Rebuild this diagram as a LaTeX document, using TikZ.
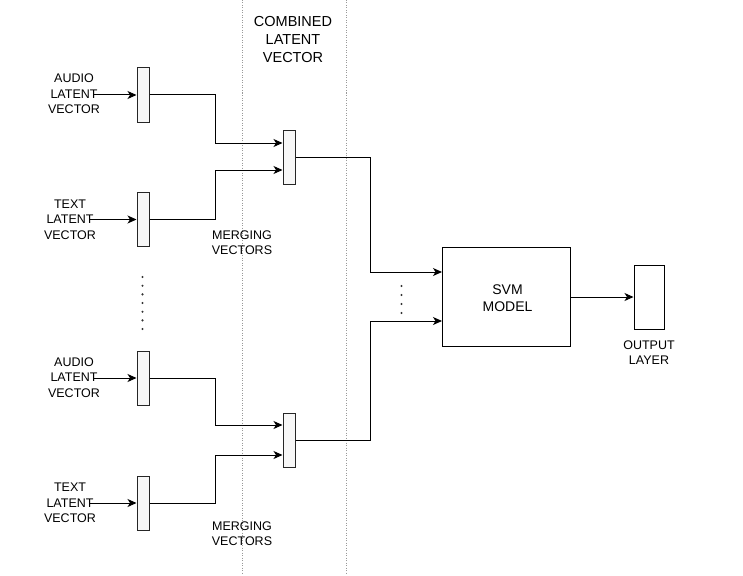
\documentclass[tikz,border=0pt]{standalone}
\usepackage{fontspec}
\setmainfont{Liberation Sans}
\usetikzlibrary{arrows.meta,calc}
\begin{document}
\begin{tikzpicture}[x=1pt,y=-1pt,
  vbox/.style={draw=black!85,fill=gray!6,line width=1pt,minimum width=12pt,minimum height=54pt,inner sep=0pt},
  bigbox/.style={draw=black,line width=1pt,inner sep=0pt,fill=white},
  lbl/.style={align=center,font=\fontsize{12.5}{15.5}\selectfont,inner sep=0pt},
  midlbl/.style={align=center,font=\fontsize{14}{17}\selectfont,inner sep=0pt},
  biglbl/.style={align=center,font=\fontsize{14.5}{18}\selectfont,inner sep=0pt},
  arr/.style={draw=black,line width=1pt,-{Stealth[length=9pt,width=8pt,inset=2.5pt]}},
  sep/.style={draw=gray!80,line width=0.9pt,dash pattern=on 1pt off 1.5pt},
  dot/.style={fill=black!80}]
\useasboundingbox (0,0) rectangle (743,575);
% separator lines
\draw[sep] (242,0) -- (242,575);
\draw[sep] (346,0) -- (346,575);
\node[biglbl] (comb) at (293,40) {COMBINED\\LATENT\\VECTOR};
% input boxes
\node[vbox] (a1) at (143,95) {};
\node[vbox] (t1) at (143,219.5) {};
\node[vbox] (a2) at (143,378) {};
\node[vbox] (t2) at (143,503) {};
% labels
\node[lbl] (la1) at (74,94) {AUDIO\\LATENT\\VECTOR};
\node[lbl] (lt1) at (70,219.5) {TEXT\\LATENT\\VECTOR};
\node[lbl] (la2) at (74,377.5) {AUDIO\\LATENT\\VECTOR};
\node[lbl] (lt2) at (70,503) {TEXT\\LATENT\\VECTOR};
\coordinate (ca1) at (93,95);
\coordinate (ct1) at (90,219.5);
\coordinate (ca2) at (93,378);
\coordinate (ct2) at (90,503);
\draw[arr] (ca1) -- (a1.west);
\draw[arr] (ct1) -- (t1.west);
\draw[arr] (ca2) -- (a2.west);
\draw[arr] (ct2) -- (t2.west);
% merge boxes
\node[vbox] (m1) at (289,157) {};
\node[vbox] (m2) at (289,440) {};
\node[lbl] (mv1) at (242,242.5) {MERGING\\VECTORS};
\node[lbl] (mv2) at (242,533.5) {MERGING\\VECTORS};
\draw[arr] (a1.east) -| (215,143) -- ($(m1.west)+(0,-14)$);
\draw[arr] (t1.east) -| (215,170) -- ($(m1.west)+(0,13)$);
\draw[arr] (a2.east) -| (215,425) -- ($(m2.west)+(0,-15)$);
\draw[arr] (t2.east) -| (215,455) -- ($(m2.west)+(0,15)$);
% svm
\node[bigbox,minimum width=128pt,minimum height=99pt] (svm) at (506.5,296.5) {};
\node[midlbl] (svmt) at (507.5,298) {SVM\\MODEL};
\draw[arr] (m1.east) -| (370,272) -- ($(svm.west)+(0,-24.5)$);
\draw[arr] (m2.east) -| (370,321) -- ($(svm.west)+(0,24.5)$);
% output
\node[bigbox,minimum width=30pt,minimum height=64pt] (out) at (649,297) {};
\node[lbl] (outt) at (649,352.5) {OUTPUT\\LAYER};
\draw[arr] (svm.east |- 0,297) -- (out.west);
% dots
\foreach \yy in {277,285.7,294.3,303,311.7,320.3,329} \fill[dot] (142.5,\yy) circle (1.2pt);
\foreach \yy in {286,295,304,313} \fill[dot] (401.5,\yy) circle (1.2pt);
\end{tikzpicture}
\end{document}
